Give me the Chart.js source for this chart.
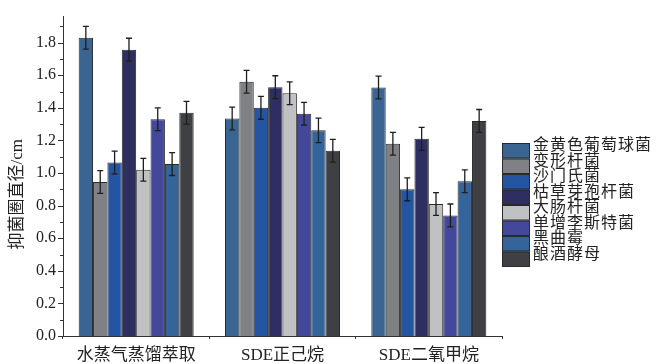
<!DOCTYPE html>
<html>
<head>
<meta charset="utf-8">
<script src="https://cdn.jsdelivr.net/npm/chart.js@4.4.1/dist/chart.umd.min.js"></script>
<style>
  html, body { margin: 0; padding: 0; background: #fff; }
  #wrap { width: 656px; height: 364px; }
</style>
</head>
<body>
<div id="wrap"><canvas id="chart" width="656" height="364"></canvas></div>
<script>
// Categories (extraction methods)
const categories = ['水蒸气蒸馏萃取', 'SDE正己烷', 'SDE二氧甲烷'];

// Series names and colours
const seriesNames = ['金黄色葡萄球菌', '变形杆菌', '沙门氏菌', '枯草芽孢杆菌', '大肠杆菌', '单增李斯特菌', '黑曲霉', '酿酒酵母'];
const seriesColors = ['#3a6592', '#7f8184', '#2455a3', '#2e2f60', '#c0c1c3', '#44489a', '#35649a', '#3e4043'];

// Inhibition zone diameter (cm), one value per category
const staphAureus = [1.83, 1.335, 1.525];
const proteus = [0.945, 1.56, 1.18];
const salmonella = [1.065, 1.40, 0.90];
const bacillus = [1.757, 1.527, 1.21];
const ecoli = [1.02, 1.49, 0.81];
const listeria = [1.33, 1.364, 0.74];
const aspergillus = [1.055, 1.262, 0.95];
const yeast = [1.37, 1.137, 1.32];

// Error bar half lengths
const staphAureusErr = [0.07, 0.07, 0.07];
const proteusErr = [0.07, 0.07, 0.07];
const salmonellaErr = [0.07, 0.07, 0.07];
const bacillusErr = [0.07, 0.07, 0.07];
const ecoliErr = [0.07, 0.07, 0.07];
const listeriaErr = [0.07, 0.07, 0.07];
const aspergillusErr = [0.07, 0.075, 0.07];
const yeastErr = [0.07, 0.07, 0.07];

// Y axis tick labels
const yTickLabels = ['0.0', '0.2', '0.4', '0.6', '0.8', '1.0', '1.2', '1.4', '1.6', '1.8'];
const yMinorStep = 0.1;

const allValues = [staphAureus, proteus, salmonella, bacillus, ecoli, listeria, aspergillus, yeast];
const allErrors = [staphAureusErr, proteusErr, salmonellaErr, bacillusErr, ecoliErr, listeriaErr, aspergillusErr, yeastErr];

const serifFont = '"Liberation Serif", "Noto Sans CJK SC", serif';
const axisColor = '#333';

// Error bars drawn on top of every bar
const errorBarPlugin = {
  id: 'errorBars',
  afterDatasetsDraw(chart) {
    const ctx = chart.ctx;
    const y = chart.scales.y;
    ctx.save();
    ctx.strokeStyle = '#1e1e1e';
    ctx.lineWidth = 1.3;
    chart.data.datasets.forEach((ds, i) => {
      const meta = chart.getDatasetMeta(i);
      meta.data.forEach((bar, j) => {
        const v = ds.data[j];
        const e = allErrors[i][j];
        const top = y.getPixelForValue(v + e);
        const bot = y.getPixelForValue(v - e);
        ctx.beginPath();
        ctx.moveTo(bar.x, top);
        ctx.lineTo(bar.x, bot);
        ctx.moveTo(bar.x - 3, top);
        ctx.lineTo(bar.x + 3, top);
        ctx.moveTo(bar.x - 3, bot);
        ctx.lineTo(bar.x + 3, bot);
        ctx.stroke();
      });
    });
    ctx.restore();
  }
};

// Major/minor tick marks on the y axis, plus the axis title
const yAxisDecorPlugin = {
  id: 'yAxisDecor',
  afterDraw(chart) {
    const ctx = chart.ctx;
    const y = chart.scales.y;
    const area = chart.chartArea;
    ctx.save();
    ctx.strokeStyle = axisColor;
    ctx.lineWidth = 1;
    const maxMajor = parseFloat(yTickLabels[yTickLabels.length - 1]);
    for (let k = 0; k * yMinorStep <= maxMajor + yMinorStep + 1e-9; k++) {
      const v = k * yMinorStep;
      const py = Math.round(y.getPixelForValue(v)) + 0.5;
      const len = k % 2 === 0 ? 5 : 3;
      ctx.beginPath();
      ctx.moveTo(area.left - len, py);
      ctx.lineTo(area.left, py);
      ctx.stroke();
    }
    // axis title
    ctx.fillStyle = '#222';
    ctx.font = '17px ' + serifFont;
    ctx.textAlign = 'center';
    ctx.textBaseline = 'middle';
    ctx.translate(18, (area.top + area.bottom) / 2 + 18);
    ctx.rotate(-Math.PI / 2);
    ctx.fillText('抑菌圈直径/cm', 0, 0);
    ctx.restore();
  }
};

// Stacked swatch legend to the right of the plot
const legendPlugin = {
  id: 'stackLegend',
  afterDraw(chart) {
    const ctx = chart.ctx;
    const area = chart.chartArea;
    const x0 = area.right;
    const top = 143;
    const rowH = 15.5;
    ctx.save();
    ctx.font = '16px ' + serifFont;
    ctx.textBaseline = 'middle';
    ctx.textAlign = 'left';
    chart.data.datasets.forEach((ds, i) => {
      const ry = top + i * rowH;
      ctx.fillStyle = ds.backgroundColor;
      ctx.fillRect(x0, ry, 28, rowH);
      ctx.strokeStyle = '#2a2a2a';
      ctx.lineWidth = 1;
      ctx.strokeRect(x0 + 0.5, ry + 0.5, 27, rowH - 1);
      ctx.fillStyle = '#222';
      ctx.letterSpacing = '1px';
      ctx.fillText(ds.label, x0 + 31, ry + 3);
    });
    ctx.restore();
  }
};

const datasets = seriesNames.map((name, i) => ({
  label: name,
  data: allValues[i],
  backgroundColor: seriesColors[i],
  borderColor: '#2a2a2a',
  borderWidth: 1,
  categoryPercentage: 0.786,
  barPercentage: 1.0
}));

new Chart(document.getElementById('chart'), {
  type: 'bar',
  data: { labels: categories, datasets: datasets },
  options: {
    responsive: false,
    animation: false,
    devicePixelRatio: 1,
    layout: { padding: { top: 13, right: 154, left: 0, bottom: 0 } },
    plugins: {
      legend: { display: false },
      tooltip: { enabled: false }
    },
    scales: {
      x: {
        grid: { display: true, drawOnChartArea: false, drawTicks: true, tickLength: 3, color: axisColor, offset: true },
        border: { display: true, color: axisColor, width: 1 },
        ticks: { color: '#222', padding: 6, font: { family: serifFont, size: 17 } },
        afterFit(scale) { scale.height = 28; }
      },
      y: {
        min: 0,
        max: 1.96,
        grid: { display: false, drawTicks: false },
        border: { display: true, color: axisColor, width: 1 },
        ticks: {
          stepSize: 0.2,
          includeBounds: false,
          color: '#222',
          padding: 7,
          font: { family: serifFont, size: 16 },
          callback: (v) => {
            const idx = Math.round(v / 0.2);
            return yTickLabels[idx] !== undefined ? yTickLabels[idx] : '';
          }
        },
        afterFit(scale) { scale.width = 63; }
      }
    }
  },
  plugins: [errorBarPlugin, yAxisDecorPlugin, legendPlugin]
});
</script>
</body>
</html>
